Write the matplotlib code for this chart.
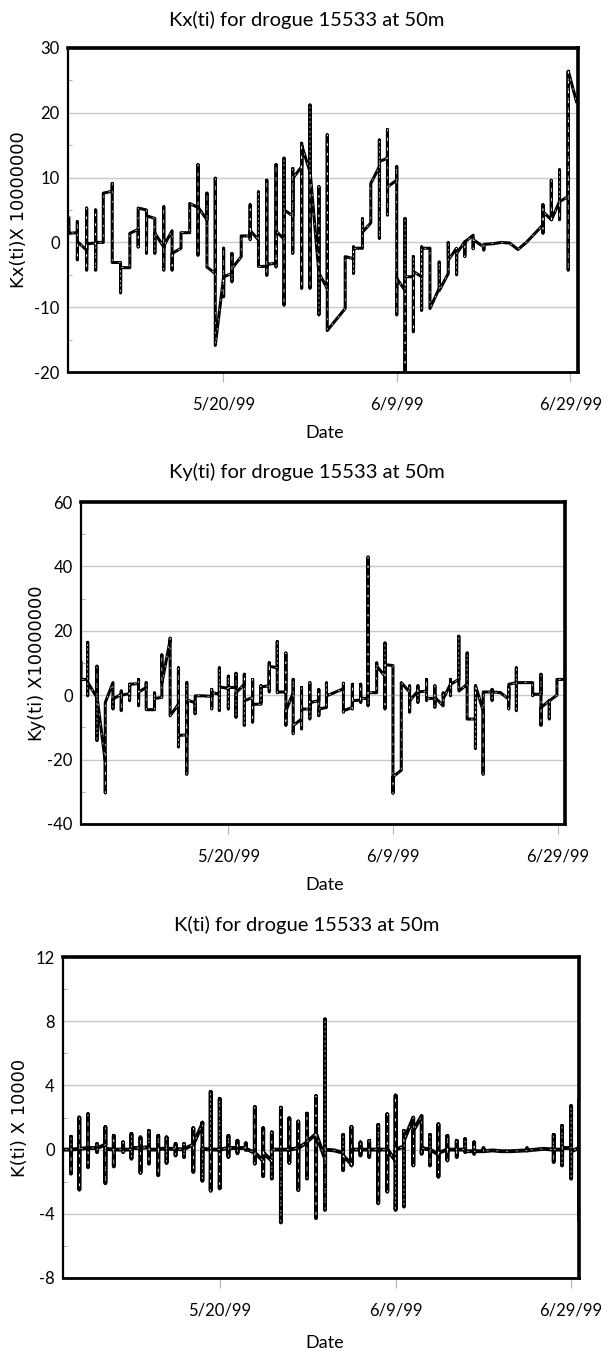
import matplotlib
matplotlib.use("Agg")
import matplotlib.pyplot as plt
import pandas as pd
from matplotlib.ticker import MultipleLocator, NullLocator

# days are counted as "day of May 1999" (June 9 = 40, June 29 = 60)
BASE = pd.Timestamp("1999-04-30")
X_MIN = 2.1
X_MAX = 60.9
TICK_DAYS = [20, 40, 60]
TICK_LABELS = ["5/20/99", "6/9/99", "6/29/99"]

TITLES = ["Kx(ti) for drogue 15533 at 50m",
          "Ky(ti) for drogue 15533 at 50m",
          "K(ti) for drogue 15533 at 50m"]
YLABELS = ["Kx(ti)X 10000000", "Ky(ti) X10000000", "K(ti) X 10000"]

# Kx(ti) x 1e7
KX_DAY = [2.20, 2.22,
          3.18, 3.18, 3.18, 3.20,
          4.25, 4.25, 4.25, 4.27,
          5.29, 5.29, 5.29, 5.31,
          6.17, 6.17,
          7.20, 7.20, 7.20,
          8.16, 8.16, 8.18,
          9.23, 9.23,
          10.19, 10.19, 10.19,
          11.15, 11.15, 11.17,
          12.11, 12.11, 12.13,
          13.14, 13.14, 13.14, 13.16,
          14.10, 14.10, 14.12,
          15.13, 15.13,
          16.13, 16.13,
          17.09, 17.09, 17.09, 17.11,
          18.12, 18.12, 18.12,
          19.08, 19.08, 19.08,
          20.04, 20.04, 20.04, 20.06,
          21.00, 21.00, 21.00, 21.02,
          22.07, 22.07,
          23.10, 23.10, 23.10, 23.12,
          24.06, 24.06, 24.06,
          25.02, 25.02, 25.02, 25.04,
          26.09, 26.09, 26.09, 26.11,
          27.01, 27.01, 27.01, 27.03,
          28.01, 28.01, 28.01, 28.03,
          29.04, 29.04, 29.04, 29.06,
          30.00, 30.00, 30.00, 30.02,
          31.03, 31.03, 31.03, 31.05,
          31.99, 31.99, 31.99,
          34.06, 34.06,
          35.02, 35.02, 35.02, 35.04,
          36.05, 36.05, 36.07,
          37.01, 37.01,
          38.00, 38.00, 38.00, 38.02,
          38.93, 38.93, 38.93, 38.95,
          40.00, 40.00, 40.00, 40.02,
          40.96, 40.96, 40.96, 40.98,
          41.92, 41.92, 41.92, 41.94,
          42.87, 42.87, 42.87, 42.89,
          43.83, 43.83,
          44.90, 44.90, 44.92,
          45.94, 45.94, 45.96,
          46.90, 46.90, 46.92,
          47.85, 47.85, 47.87,
          48.81, 48.81, 48.83,
          50.04, 50.04, 50.06,
          51.10, 52.07, 53.03, 53.98, 54.94,
          56.86, 56.86, 56.86, 56.88,
          57.82, 57.82, 57.84,
          58.77, 58.77, 58.77, 58.79,
          59.77, 59.77, 59.77, 59.79,
          60.77]
KX_VAL = [4.0, 1.4,
          1.5, 3.2, -2.7, 0.1,
          -1.2, 5.3, -4.3, -0.2,
          -0.1, 5.0, -4.3, 0.0,
          0.0, 7.6,
          7.9, 9.1, -3.1,
          -3.1, -7.8, -3.9,
          -3.9, 1.4,
          2.0, -0.7, 5.3,
          5.0, -1.7, 4.1,
          3.7, -1.7, 1.4,
          -0.7, 5.5, -4.3, -0.5,
          1.8, -4.3, -1.7,
          -0.9, 1.5,
          1.5, 6.0,
          5.4, 12.0, -2.0, 5.4,
          3.5, 7.6, -3.8,
          -4.8, 9.9, -15.9,
          -5.3, -0.9, -8.4, -5.3,
          -4.8, -1.7, -6.1, -4.0,
          -2.2, 1.0,
          1.0, 5.8, 0.4, 1.8,
          0.4, 7.8, -3.7,
          -3.7, 9.6, -5.1, -3.4,
          -3.2, 12.0, -3.8, 1.7,
          0.5, 13.0, -9.7, 5.0,
          4.1, 11.4, -1.7, 9.9,
          11.7, 15.3, -7.1, 14.9,
          10.9, 21.2, -7.1, 10.9,
          -4.8, 8.6, -11.2, -4.8,
          -7.1, 16.6, -13.6,
          -10.2, -2.2,
          -2.5, -0.7, -4.8, -0.9,
          -0.9, 3.7, 1.6,
          3.0, 9.1,
          11.7, 15.8, 0.6, 12.5,
          13.0, 17.4, 4.2, 8.6,
          9.6, 11.7, -11.2, -5.6,
          -7.4, 3.7, -20.0, -5.3,
          -5.3, -2.2, -13.8, -4.5,
          -5.3, -0.7, -10.5, -0.9,
          -0.9, -10.2,
          -7.1, -3.0, -7.4,
          -4.8, 0.0, -2.7,
          -0.9, -5.0, -1.7,
          0.1, -2.2, 0.1,
          1.1, -1.0, 0.4,
          -0.7, -1.2, -0.3,
          -0.2, 0.0, -0.1, -1.1, 0.0,
          2.7, 5.8, 1.4, 4.7,
          3.5, 9.6, 3.5,
          6.3, 11.2, 3.5, 6.3,
          7.1, 26.4, -4.3, 26.4,
          21.5]

# Ky(ti) x 1e7
KY_DAY = [2.10, 2.10,
          2.91, 2.91, 2.91, 2.93,
          4.04, 4.04, 4.04, 4.06,
          5.05, 5.05, 5.05,
          5.98, 5.98, 6.00,
          6.99, 6.99, 6.99, 7.01,
          8.00, 8.00, 8.00, 8.02,
          9.09, 9.09, 9.09, 9.11,
          10.02, 10.02, 10.02, 10.04,
          11.03, 11.03, 11.05,
          11.92, 11.92, 11.94,
          12.93, 12.93, 12.93,
          13.94, 13.94, 13.94, 13.96,
          14.95, 14.95, 14.95, 14.97,
          15.96, 15.96, 15.98,
          16.97,
          17.98, 17.98, 17.98, 18.00,
          18.91, 18.91, 18.91, 18.93,
          20.00, 20.00, 20.00, 20.02,
          20.93, 20.93, 20.93, 20.95,
          21.94, 21.94, 21.94, 21.96,
          22.95, 22.95, 22.95, 22.97,
          23.96, 23.96, 23.96, 23.98,
          24.97, 24.97, 24.97, 24.99,
          25.94, 25.94, 25.94, 25.96,
          26.99, 26.99, 26.99, 27.01,
          27.88, 27.88, 27.88, 27.90,
          28.89, 28.89, 28.89, 28.91,
          29.90, 29.90, 29.90, 29.92,
          30.99, 30.99, 30.99, 31.01,
          31.92, 31.92, 31.94,
          33.98, 33.98, 33.98, 34.00,
          35.07, 35.07, 35.07, 35.09,
          36.08, 36.08, 36.08, 36.10,
          36.97, 36.97, 36.97, 36.99,
          38.02, 38.02, 38.04,
          39.03, 39.03, 39.03, 39.05,
          40.00, 40.00, 40.02,
          41.01, 41.01,
          42.02, 42.02, 42.02, 42.04,
          43.03, 43.03, 43.03, 43.05,
          44.08, 44.08, 44.08, 44.10,
          45.09, 45.09, 45.09, 45.11,
          46.10, 46.10, 46.12,
          46.99, 46.99, 46.99, 47.01,
          48.00, 48.00, 48.00, 48.02,
          49.01, 49.01, 49.01,
          50.02, 50.02, 50.02, 50.04,
          50.95, 50.95, 50.97,
          52.04, 52.04, 52.04, 52.06,
          53.05,
          54.06, 54.06, 54.06, 54.08,
          54.99, 54.99, 54.99, 55.01,
          56.97, 56.97, 56.99,
          57.98, 57.98, 57.98, 58.00,
          58.99, 58.99, 59.01,
          59.92, 59.92,
          60.93, 60.93]
KY_VAL = [10.6, 4.9,
          4.9, 16.4, -0.2, 3.9,
          -0.7, 9.0, -14.1, -0.7,
          -20.7, -30.3, -2.3,
          3.9, -4.3, -1.2,
          0.3, 1.3, -4.8, 0.0,
          0.5, 3.4, -1.7, 3.4,
          3.6, 4.9, -3.3, 1.0,
          2.4, 3.9, -4.3, -4.5,
          -4.5, 0.8, -1.0,
          -0.7, 12.6, 3.9,
          17.2, 17.7, -6.4,
          -2.8, 8.5, -16.1, -12.5,
          -12.3, 3.9, -24.6, -1.5,
          -2.3, -5.8, -0.2,
          -0.2,
          -0.4, 1.8, -4.3, 0.8,
          0.3, 8.5, -4.8, 2.6,
          2.1, 5.9, -4.3, 2.4,
          2.4, 6.8, -6.9, 0.8,
          3.4, 6.5, -9.4, -1.7,
          -0.7, 4.9, -8.4, -2.8,
          -2.8, 2.9, -2.3, 2.6,
          2.9, 10.1, 1.0, 9.0,
          8.5, 16.7, 0.8, 1.0,
          1.0, 13.1, -9.4, -4.8,
          0.8, 4.9, -12.0, -9.4,
          -7.4, 2.4, -10.5, -4.3,
          -4.3, 3.9, -7.4, -2.3,
          -1.7, 1.8, -6.4, -4.3,
          -3.8, 3.9, -0.2,
          2.0, 3.7, -5.3, -4.8,
          -3.8, 3.4, -4.3, -1.7,
          -1.5, 3.4, -2.3, -1.0,
          -1.0, 42.9, -3.3, 0.8,
          0.8, 10.1, 9.0,
          5.9, 16.2, -4.3, 9.5,
          9.2, -30.5, -25.3,
          -23.3, 3.9,
          1.0, 2.9, -5.3, -1.7,
          1.3, 2.9, -2.3, 1.0,
          1.3, 4.9, -1.7, -1.0,
          -1.0, 2.9, -3.8, -0.7,
          -3.3, 0.8, -1.0,
          3.4, 4.9, -0.2, 3.4,
          4.9, 18.3, 1.8, 1.3,
          3.4, 13.1, -7.4,
          -7.4, 2.9, -16.6, 2.9,
          -4.8, -24.6, 1.0,
          1.0, 1.8, -1.7, 1.0,
          0.8,
          -1.2, 2.4, -4.3, 3.4,
          3.9, 8.5, -4.8, 3.9,
          3.9, -0.2, 0.3,
          0.3, 6.5, -9.4, -3.8,
          -1.7, -7.4, -1.7,
          0.0, 4.9,
          4.9, 10.1]

# K(ti) x 1e4
K_DAY = [1.98, 1.98, 2.00,
         3.01, 3.01, 3.01, 3.03,
         3.96, 3.96, 3.96, 3.98,
         4.95, 4.95, 4.95, 4.97,
         5.98, 5.98, 5.98, 6.00,
         6.93, 6.93, 6.93, 6.95,
         7.89, 7.89, 7.89, 7.91,
         8.95, 8.95, 8.95, 8.97,
         9.90, 9.90, 9.90, 9.92,
         10.93, 10.93, 10.93, 10.95,
         11.89, 11.89, 11.89, 11.91,
         12.95, 12.95, 12.95, 12.97,
         13.90, 13.90, 13.90, 13.92,
         14.93, 14.93, 14.93, 14.95,
         15.89, 15.89, 15.89, 15.91,
         16.95, 16.95, 16.95, 16.97,
         17.98, 17.98, 17.98, 18.00,
         18.93, 18.93, 18.93, 18.95,
         19.96, 19.96, 19.96, 19.98,
         20.95, 20.95, 20.95, 20.97,
         21.98, 21.98, 21.98, 22.00,
         22.93, 22.93, 22.93, 22.95,
         23.96, 23.96, 23.96, 23.98,
         24.91, 24.91, 24.91, 24.93,
         25.90, 25.90, 25.90, 25.92,
         26.93, 26.93, 26.93, 26.95,
         27.89, 27.89, 27.89, 27.91,
         28.91, 28.91, 28.91, 28.93,
         29.90, 29.90, 29.90, 29.92,
         30.93, 30.93, 30.93, 30.95,
         31.96, 31.96, 31.96, 31.98,
         33.00,
         34.02, 34.02, 34.02, 34.04,
         34.97, 34.97, 34.97, 34.99,
         36.00, 36.00, 36.00, 36.02,
         36.99, 36.99, 36.99, 37.01,
         38.02, 38.02, 38.02, 38.04,
         39.05, 39.05, 39.05, 39.07,
         40.00, 40.00, 40.00, 40.02,
         40.95, 40.95, 40.95, 40.97,
         42.02, 42.02, 42.02, 42.04,
         42.97, 42.97, 42.99,
         43.92, 43.92, 43.92, 43.94,
         44.88, 44.88, 44.88, 44.90,
         45.90, 45.90, 45.90, 45.92,
         46.97, 46.97, 46.97, 46.99,
         47.92, 47.92, 47.92, 47.94,
         48.95, 48.95, 48.95, 48.97,
         50.02, 50.02, 50.04,
         51.05, 52.00, 53.07,
         54.97, 54.97, 55.00,
         56.88,
         58.02, 58.02, 58.02, 58.04,
         58.97, 58.97, 58.97, 58.99,
         60.00, 60.00, 60.00, 60.02,
         60.90, 60.90, 60.90]
K_VAL = [0.86, -0.68, 0.0,
         0.0, 0.8, -1.5, 0.0,
         0.05, 2.0, -2.5, 0.05,
         0.1, 2.2, -1.1, 0.1,
         0.1, 0.35, -0.16, 0.1,
         0.3, 1.4, -2.1, 0.05,
         0.0, 0.86, -1.05, 0.0,
         0.0, 0.45, -0.16, 0.0,
         0.0, 0.97, -0.57, 0.1,
         0.1, 0.76, -1.46, 0.1,
         0.15, 1.17, -0.88, 0.0,
         0.0, 0.86, -1.6, 0.05,
         0.05, 0.76, -0.84, 0.05,
         0.05, 0.35, -0.37, 0.05,
         0.0, 0.35, -0.47, 0.05,
         0.3, 1.33, -1.4, 0.35,
         1.6, 1.68, -1.95, 0.05,
         0.0, 3.59, -2.57, 0.0,
         0.0, 3.16, -2.42, 0.0,
         0.1, 0.86, -0.47, 0.1,
         0.1, 0.55, -0.23, 0.1,
         0.1, 0.39, -0.02, 0.05,
         -0.2, 2.65, -0.88, -0.2,
         -0.7, 1.33, -1.66, -0.2,
         -0.7, 1.07, -1.81, 0.0,
         0.0, 2.61, -4.54, 0.0,
         0.0, 1.95, -0.84, 0.0,
         0.1, 1.75, -2.53, 0.1,
         0.45, 2.24, -1.81, 0.5,
         0.97, 3.33, -4.27, 0.97,
         -0.57, 8.11, -3.76, 0.0,
         -0.05,
         -0.2, 0.92, -1.29, -0.4,
         -0.9, 1.42, -0.99, 0.0,
         0.0, 0.45, -0.37, 0.0,
         0.0, 0.55, -0.47, 0.0,
         0.0, 1.54, -3.35, 0.0,
         0.0, 2.2, -2.63, 0.0,
         -0.7, 3.37, -3.76, 0.0,
         0.2, 1.17, -3.55, 0.6,
         2.0, 1.99, -0.99, 1.2,
         2.1, -0.27, 0.1,
         0.0, 0.92, -0.99, 0.0,
         -0.3, 1.58, -1.7, -0.2,
         0.0, 0.86, -0.68, 0.0,
         0.0, 0.55, -0.47, 0.0,
         0.0, 0.65, -0.16, -0.1,
         -0.1, 0.45, -0.27, -0.1,
         -0.1, 0.1, -0.1,
         -0.05, -0.1, -0.1,
         -0.05, 0.1, -0.05,
         0.05,
         0.0, 0.92, -0.78, 0.0,
         0.0, 1.48, -0.99, 0.1,
         0.1, 2.71, -1.81, -0.1,
         0.1, 3.1, -4.5]

W, H = 611, 1352
plt.rcParams["font.family"] = ["Lato", "DejaVu Sans"]
plt.rcParams["axes.unicode_minus"] = False
plt.rcParams["lines.scale_dashes"] = False


def to_dates(days):
    return BASE + pd.to_timedelta(pd.Series(days), unit="D")


def draw_panel(ax, days, vals, ylim, major, minor, lw):
    t = to_dates(days)
    ax.plot(t, vals, color="black", lw=lw, solid_capstyle="butt", zorder=3)
    # sparse white dashes running inside the black line
    ax.plot(t, vals, color="white", lw=0.45, dashes=(1.5, 5.5), zorder=4)
    ax.set_xlim(to_dates([X_MIN, X_MAX]))
    ax.set_ylim(*ylim)
    ax.yaxis.set_major_locator(MultipleLocator(major))
    ax.yaxis.set_minor_locator(MultipleLocator(minor))
    ax.set_xticks(to_dates(TICK_DAYS))
    ax.set_xticklabels(TICK_LABELS)
    ax.xaxis.set_minor_locator(NullLocator())
    ax.grid(axis="y", which="major", color="#c8c8c8", lw=1.0)
    ax.set_axisbelow(True)
    ax.tick_params(axis="x", which="major", direction="out", length=7,
                   color="#b4b4b4", width=0.8, pad=11, labelsize=12)
    ax.tick_params(axis="y", which="major", length=0, pad=6, labelsize=12)
    ax.tick_params(axis="y", which="minor", direction="in", length=3,
                   color="#b4b4b4", width=0.8)
    ax.spines["top"].set_linewidth(2.6)
    ax.spines["right"].set_linewidth(2.6)
    ax.spines["left"].set_linewidth(1.6)
    ax.spines["bottom"].set_linewidth(2.0)
    for s in ax.spines.values():
        s.set_color("black")
        s.set_zorder(5)


fig = plt.figure(figsize=(W / 100, H / 100), dpi=100)

# axes boxes in pixels: left, top, right, bottom
boxes = [(68, 48, 578, 372), (81, 502, 565, 824), (63, 957, 579, 1278)]
axes = []
for (l, t, r, b) in boxes:
    axes.append(fig.add_axes([l / W, 1 - b / H, (r - l) / W, (b - t) / H]))

draw_panel(axes[0], KX_DAY, KX_VAL, (-20, 30), 10, 5, 2.2)
draw_panel(axes[1], KY_DAY, KY_VAL, (-40, 60), 20, 10, 2.2)
draw_panel(axes[2], K_DAY, K_VAL, (-8, 12), 4, 2, 2.8)

title_y = [20, 472, 925]
date_y = [433, 885, 1343]
ylab_x = [19, 37, 20]
for i, (l, t, r, b) in enumerate(boxes):
    fig.text(307 / W, 1 - title_y[i] / H, TITLES[i], ha="center", va="center",
             fontsize=14.5)
    fig.text(325 / W, 1 - date_y[i] / H, "Date", ha="center", va="center",
             fontsize=13)
    fig.text(ylab_x[i] / W, 1 - (t + b) / 2 / H, YLABELS[i], ha="center",
             va="center", rotation=90, fontsize=13, family="DejaVu Sans")

fig.savefig("out.png", dpi=100)
